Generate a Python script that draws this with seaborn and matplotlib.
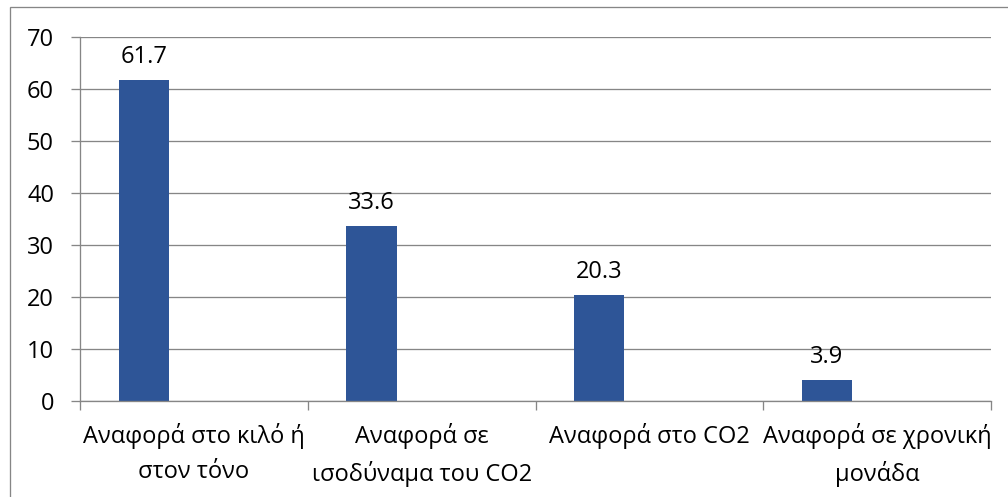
import matplotlib
matplotlib.use("Agg")
import matplotlib.pyplot as plt
import seaborn as sns
import pandas as pd
from matplotlib.patches import Rectangle

# Chart data
categories = [
    "Αναφορά στο κιλό ή\nστον τόνο",
    "Αναφορά σε\nισοδύναμα του CO2",
    "Αναφορά στο CO2",
    "Αναφορά σε χρονική\nμονάδα",
]
values = [61.7, 33.6, 20.3, 3.9]
series_slots = ["Σειρά 1", "Σειρά 2", "Σειρά 3"]
y_ticks = [0, 10, 20, 30, 40, 50, 60, 70]

BAR_COLOR = "#2E5597"
GRID_COLOR = "#868686"
TEXT_COLOR = "#000000"
PX = 0.72  # one pixel in points at dpi 100
FS = 17

sns.set_theme(style="white")
plt.rcParams["font.family"] = ["Open Sans", "DejaVu Sans"]

W, H = 1008, 497
fig = plt.figure(figsize=(W / 100, H / 100), dpi=100)
fig.patch.set_facecolor("white")

left, right, top, bottom = 80, 991, 37, 400.7
ax = fig.add_axes([left / W, 1 - bottom / H, (right - left) / W, (bottom - top) / H])

df = pd.DataFrame({"category": categories, "value": values, "series": series_slots[0]})
sns.barplot(
    data=df, x="category", y="value", hue="series",
    order=categories, hue_order=series_slots,
    palette=[BAR_COLOR] * len(series_slots), saturation=1,
    width=0.66, dodge=True, legend=False, linewidth=0, ax=ax,
)

ax.set_xlim(-0.5, len(categories) - 0.5)
ax.set_ylim(0, 70)
ax.set_yticks(y_ticks)
ax.set_xlabel("")
ax.set_ylabel("")

# Gridlines and axes
ax.set_axisbelow(True)
ax.yaxis.grid(True, color=GRID_COLOR, linewidth=1.3 * PX)
ax.xaxis.grid(False)
for side in ("top", "right"):
    ax.spines[side].set_visible(False)
for side in ("left", "bottom"):
    ax.spines[side].set_color(GRID_COLOR)
    ax.spines[side].set_linewidth(1.3 * PX)

ax.tick_params(axis="y", which="major", length=9 * PX, width=1.3 * PX,
               color=GRID_COLOR, direction="out", left=True,
               labelsize=FS, labelcolor=TEXT_COLOR, pad=17 * PX)

# Category boundary ticks on the x axis, labels centred in each category
ax.set_xticks(range(len(categories)))
ax.set_xticklabels(categories, linespacing=1.62, ha="center")
ax.set_xticks([i - 0.5 for i in range(len(categories) + 1)], minor=True)
ax.tick_params(axis="x", which="major", length=0, labelsize=FS,
               labelcolor=TEXT_COLOR, pad=22 * PX)
ax.tick_params(axis="x", which="minor", length=9 * PX, width=1.3 * PX,
               color=GRID_COLOR, direction="out", bottom=True)

# Value labels above bars
ax.bar_label(ax.containers[0], labels=[f"{v:.1f}" for v in values],
             padding=11 * PX, fontsize=FS, color=TEXT_COLOR)

# Chart area border
fig.add_artist(Rectangle((10 / W, -0.05), 1.2, 1.05 - 7 / H,
                         transform=fig.transFigure, fill=False,
                         edgecolor=GRID_COLOR, linewidth=1.3 * PX))

fig.savefig("out.png", dpi=100, facecolor="white")
